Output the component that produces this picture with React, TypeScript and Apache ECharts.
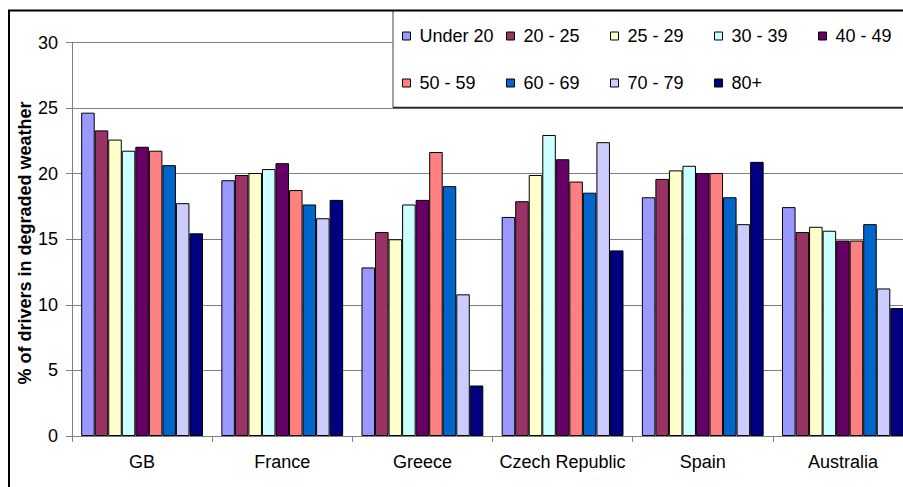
import React, { useEffect, useRef } from "react";
import * as echarts from "echarts";

const categories = ["GB", "France", "Greece", "Czech Republic", "Spain", "Australia"];
const ageGroups = ["Under 20", "20 - 25", "25 - 29", "30 - 39", "40 - 49", "50 - 59", "60 - 69", "70 - 79", "80+"];
const colors = ["#9999FF", "#993366", "#FFFFCC", "#CCFFFF", "#660066", "#FF8080", "#0066CC", "#CCCCFF", "#000080"];

const under20 = [24.65, 19.5, 12.85, 16.7, 18.2, 17.45];
const age20to25 = [23.3, 19.9, 15.55, 17.9, 19.6, 15.55];
const age25to29 = [22.6, 20.05, 15.0, 19.9, 20.25, 15.95];
const age30to39 = [21.75, 20.35, 17.65, 22.95, 20.6, 15.65];
const age40to49 = [22.05, 20.8, 18.0, 21.1, 20.05, 14.9];
const age50to59 = [21.75, 18.75, 21.65, 19.4, 20.05, 14.9];
const age60to69 = [20.65, 17.65, 19.05, 18.55, 18.2, 16.15];
const age70to79 = [17.75, 16.6, 10.8, 22.4, 16.15, 11.25];
const age80plus = [15.45, 18.0, 3.85, 14.15, 20.9, 9.75];

const seriesValues = [under20, age20to25, age25to29, age30to39, age40to49, age50to59, age60to69, age70to79, age80plus];
const yTicks = { min: 0, max: 30, interval: 5 };

const FONT = 'Arial, "Liberation Sans", sans-serif';

export default function App() {
  const ref = useRef<HTMLDivElement>(null);
  useEffect(() => {
    if (!ref.current) return;
    const chart = echarts.init(ref.current, null, { renderer: "svg" });
    const colX = [402, 506, 610, 714, 818];
    const rowY = [26, 73];
    const legends = ageGroups.map((name, i) => ({
      data: [name],
      left: colX[i % 5],
      top: rowY[Math.floor(i / 5)],
      icon: "rect",
      itemWidth: 8,
      itemHeight: 8,
      padding: 0,
      selectedMode: false,
      itemStyle: { borderColor: "#000", borderWidth: 1 },
      textStyle: { fontFamily: FONT, fontSize: 18, color: "#000", padding: [0, 0, 0, 4], lineHeight: 20 },
    }));
    chart.setOption({
      animation: false,
      backgroundColor: "#fff",
      legend: legends,
      grid: { left: 72, top: 42.5, width: 841, height: 393.5, containLabel: false },
      xAxis: {
        type: "category",
        data: categories,
        axisLine: { lineStyle: { color: "#808080", width: 1 } },
        axisTick: { show: true, length: 6, inside: false, lineStyle: { color: "#808080" } },
        axisLabel: { fontFamily: FONT, fontSize: 18, color: "#000", margin: 17, interval: 0 },
        splitLine: { show: false },
      },
      yAxis: {
        type: "value",
        min: yTicks.min,
        max: yTicks.max,
        interval: yTicks.interval,
        axisLine: { show: true, lineStyle: { color: "#808080", width: 1 } },
        axisTick: { show: true, length: 6, lineStyle: { color: "#808080" } },
        axisLabel: { fontFamily: FONT, fontSize: 18, color: "#000", margin: 14 },
        splitLine: { show: true, lineStyle: { color: "#808080", width: 1 } },
      },
      series: ageGroups.map((name, i) => ({
        name,
        type: "bar",
        data: seriesValues[i],
        barGap: "0%",
        barCategoryGap: "13.1%",
        itemStyle: { color: colors[i], borderColor: "#000", borderWidth: 1 },
      })),
      graphic: [
        {
          type: "rect",
          z: 3,
          shape: { x: 393, y: 11, width: 540, height: 96.5 },
          style: { fill: "#fff", stroke: null },
        },
        {
          type: "line",
          z: 3,
          shape: { x1: 393, y1: 11, x2: 393, y2: 107.5 },
          style: { stroke: "#808080", lineWidth: 1.5 },
        },
        {
          type: "line",
          z: 3,
          shape: { x1: 393, y1: 107.5, x2: 930, y2: 107.5 },
          style: { stroke: "#222", lineWidth: 1.5 },
        },
        {
          type: "line",
          z: 10,
          shape: { x1: 8, y1: 10.5, x2: 930, y2: 10.5 },
          style: { stroke: "#000", lineWidth: 2 },
        },
        {
          type: "line",
          z: 10,
          shape: { x1: 9, y1: 10, x2: 9, y2: 487 },
          style: { stroke: "#000", lineWidth: 2 },
        },
        {
          type: "text",
          x: 25,
          y: 243,
          rotation: Math.PI / 2,
          style: {
            text: "% of drivers in degraded weather",
            fontFamily: FONT,
            fontSize: 18,
            fontWeight: "bold",
            fill: "#000",
            align: "center",
            verticalAlign: "middle",
          },
        },
      ],
    });
    return () => chart.dispose();
  }, []);
  return (
    <div style={{ position: "fixed", left: 0, top: 0, width: 903, height: 487, overflow: "hidden", background: "#fff" }}>
      <div ref={ref} style={{ position: "absolute", left: 0, top: 0, width: 930, height: 487 }} />
    </div>
  );
}
